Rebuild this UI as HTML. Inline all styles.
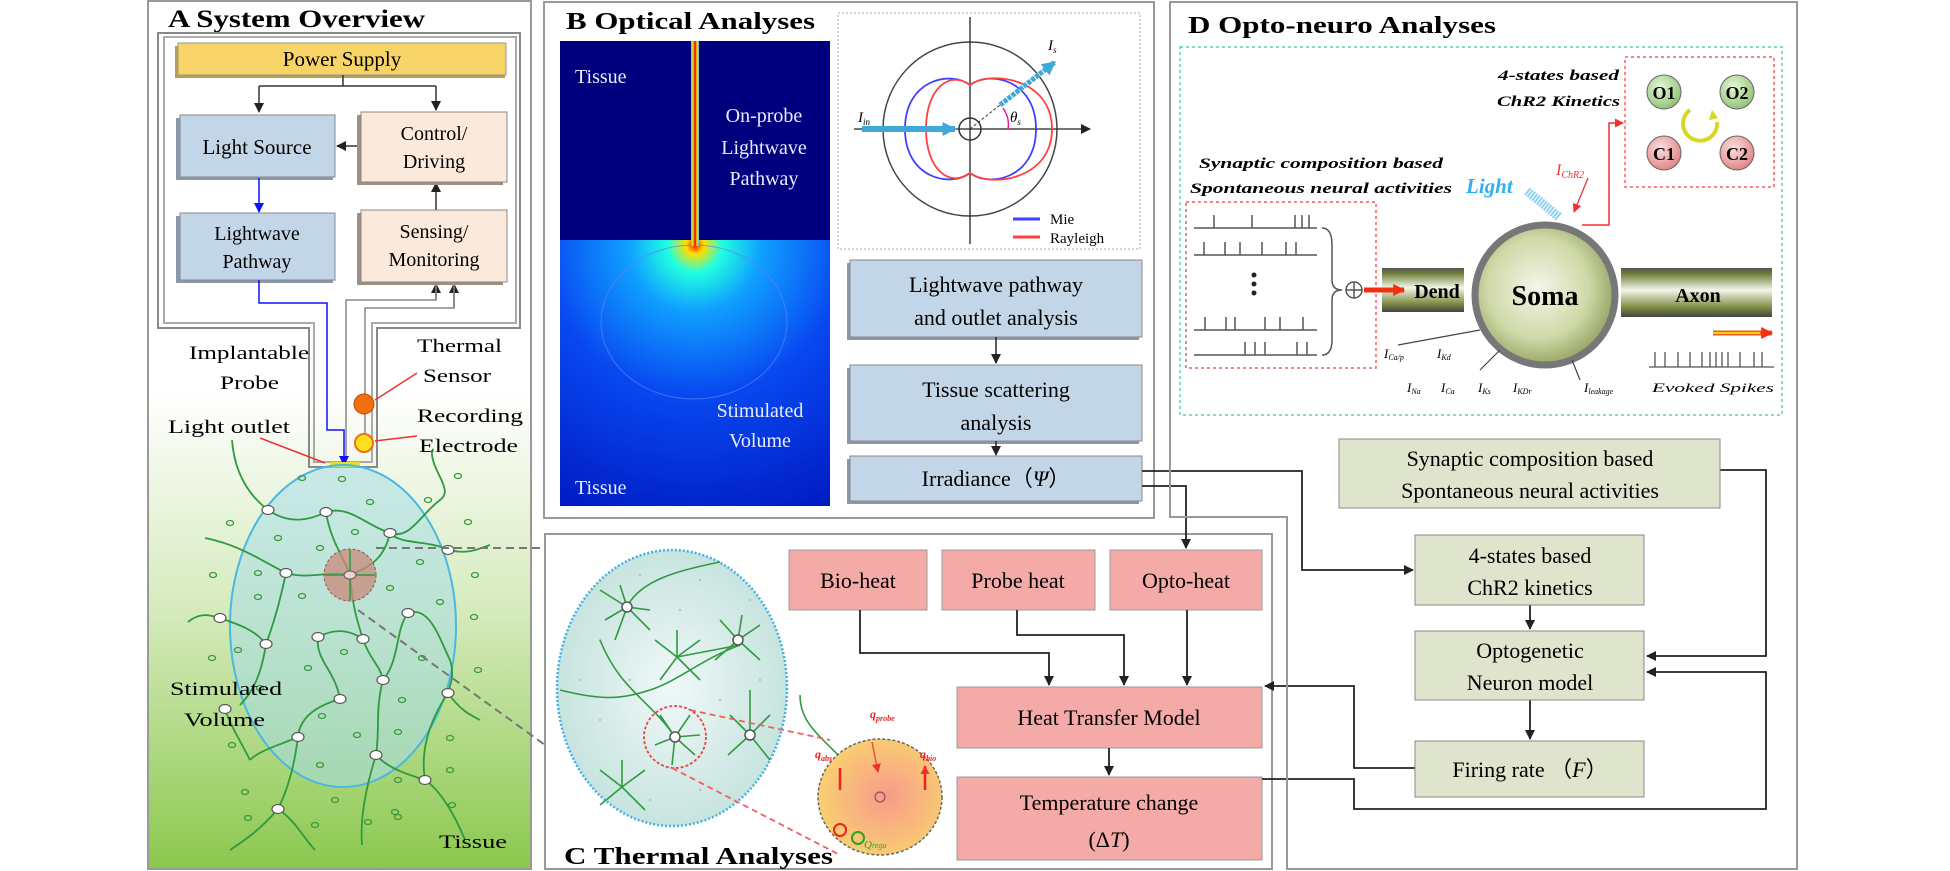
<!DOCTYPE html>
<html><head><meta charset="utf-8"><style>html,body{margin:0;padding:0;background:#fff}svg{display:block}</style></head><body>
<svg xmlns="http://www.w3.org/2000/svg" width="1950" height="871" viewBox="0 0 1950 871" font-family="'Liberation Serif', serif">
<defs>
<linearGradient id="gA" x1="0" y1="0" x2="0" y2="1"><stop offset="0" stop-color="#fff"/><stop offset="0.45" stop-color="#fff"/><stop offset="0.7" stop-color="#d6ebbd"/><stop offset="1" stop-color="#8bc84e"/></linearGradient>
<radialGradient id="gB" cx="695" cy="245" r="300" gradientUnits="userSpaceOnUse"><stop offset="0" stop-color="#ff1a00"/><stop offset="0.03" stop-color="#ffe000"/><stop offset="0.09" stop-color="#20ffe0"/><stop offset="0.22" stop-color="#10a0ff"/><stop offset="0.5" stop-color="#0848f0"/><stop offset="1" stop-color="#0018c0"/></radialGradient>
<linearGradient id="probe" x1="0" x2="1"><stop offset="0" stop-color="#40c0ff"/><stop offset="0.25" stop-color="#ffe000"/><stop offset="0.5" stop-color="#e00000"/><stop offset="0.75" stop-color="#ffe000"/><stop offset="1" stop-color="#40c0ff"/></linearGradient>
<radialGradient id="soma" cx="0.45" cy="0.45" r="0.6"><stop offset="0" stop-color="#f4f6e8"/><stop offset="0.6" stop-color="#cfd9a8"/><stop offset="1" stop-color="#8a9a55"/></radialGradient>
<linearGradient id="cyl" x1="0" y1="0" x2="0" y2="1"><stop offset="0" stop-color="#555"/><stop offset="0.12" stop-color="#6f7f3a"/><stop offset="0.45" stop-color="#f4f6ea"/><stop offset="0.8" stop-color="#7f8f45"/><stop offset="1" stop-color="#444"/></linearGradient>
<radialGradient id="gC" cx="0.5" cy="0.5" r="0.6"><stop offset="0" stop-color="#f0f8fa"/><stop offset="1" stop-color="#bfe0d8"/></radialGradient>
<radialGradient id="gO" cx="0.55" cy="0.5" r="0.55"><stop offset="0" stop-color="#f89a8a"/><stop offset="1" stop-color="#f8d070"/></radialGradient>
<radialGradient id="gG" cx="0.4" cy="0.35" r="0.7"><stop offset="0" stop-color="#e8f8d8"/><stop offset="1" stop-color="#8cc070"/></radialGradient>
<radialGradient id="gR" cx="0.4" cy="0.35" r="0.7"><stop offset="0" stop-color="#fbe0e0"/><stop offset="1" stop-color="#e08080"/></radialGradient>
<marker id="ar" viewBox="0 0 10 10" refX="9" refY="5" markerUnits="userSpaceOnUse" markerWidth="10" markerHeight="10" orient="auto"><path d="M0,0L10,5L0,10z" fill="#222"/></marker>
<marker id="arb" viewBox="0 0 10 10" refX="9" refY="5" markerUnits="userSpaceOnUse" markerWidth="10" markerHeight="10" orient="auto"><path d="M0,0L10,5L0,10z" fill="#1010ff"/></marker>
<marker id="arr" viewBox="0 0 10 10" refX="9" refY="5" markerUnits="userSpaceOnUse" markerWidth="9" markerHeight="9" orient="auto"><path d="M0,0L10,5L0,10z" fill="#f03030"/></marker>
<marker id="arc" viewBox="0 0 10 10" refX="9" refY="5" markerUnits="userSpaceOnUse" markerWidth="14" markerHeight="14" orient="auto"><path d="M0,0L10,5L0,10z" fill="#40a8d8"/></marker>
<marker id="arR" viewBox="0 0 10 10" refX="9" refY="5" markerUnits="userSpaceOnUse" markerWidth="12" markerHeight="12" orient="auto"><path d="M0,0L10,5L0,10z" fill="#f03010"/></marker>
</defs>

<!-- PANEL A -->
<rect x="148" y="1" width="383" height="868" fill="url(#gA)" stroke="#999" stroke-width="2"/>
<text x="168" y="27" font-size="25" font-weight="bold" textLength="257" lengthAdjust="spacingAndGlyphs">A  System Overview</text>
<path d="M158,33 H520 V328 H377 V467 H309 V328 H158 Z" fill="none" stroke="#888" stroke-width="2"/>
<path d="M164,37 H516 V323 H372 V462 H314 V323 H164 Z" fill="none" stroke="#aaa" stroke-width="2"/>
<rect x="175" y="46" width="330" height="32" fill="#b8a050"/>
<rect x="178" y="43" width="328" height="32" fill="#f8d468" stroke="#999"/>
<text x="342" y="66" font-size="21" text-anchor="middle">Power Supply</text>
<g stroke="#333" stroke-width="1.5" fill="none">
<path d="M343,75 V86 M259,86 H436 M259,86 V112" marker-end="url(#ar)"/>
<path d="M436,86 V110" marker-end="url(#ar)"/>
<path d="M361,146 H337" marker-end="url(#ar)"/>
<path d="M436,210 V183" marker-end="url(#ar)"/>
<path d="M436,300 V284" marker-end="url(#ar)"/>
<path d="M454,308 V284" marker-end="url(#ar)"/>
</g>
<path d="M436,283 V300 H346 V467 M454,283 V308 H365 V440" fill="none" stroke="#888" stroke-width="1.5"/>
<rect x="176" y="118" width="157" height="62" fill="#8a9aaa"/><rect x="180" y="115" width="155" height="62" fill="#c3d6e8" stroke="#888"/>
<text x="257" y="154" font-size="21" text-anchor="middle">Light Source</text>
<rect x="357" y="115" width="146" height="70" fill="#a09080"/><rect x="361" y="112" width="146" height="70" fill="#fbe9dc" stroke="#888"/>
<text x="434" y="140" font-size="20" text-anchor="middle">Control/</text><text x="434" y="168" font-size="20" text-anchor="middle">Driving</text>
<rect x="176" y="216" width="157" height="67" fill="#8a9aaa"/><rect x="180" y="213" width="155" height="67" fill="#c3d6e8" stroke="#888"/>
<text x="257" y="240" font-size="20" text-anchor="middle">Lightwave</text><text x="257" y="268" font-size="20" text-anchor="middle">Pathway</text>
<rect x="357" y="213" width="146" height="72" fill="#a09080"/><rect x="361" y="210" width="146" height="72" fill="#fbe9dc" stroke="#888"/>
<text x="434" y="238" font-size="20" text-anchor="middle">Sensing/</text><text x="434" y="266" font-size="20" text-anchor="middle">Monitoring</text>
<path d="M259,178 V212" stroke="#1010ff" stroke-width="1.5" marker-end="url(#arb)"/>
<path d="M259,280 V303 H327 V430 H344 V465" fill="none" stroke="#1010ff" stroke-width="1.5" marker-end="url(#arb)"/>
<rect x="330" y="462" width="30" height="5" fill="#e8e020"/>
<path d="M375,400 L417,373 M375,441 L417,436 M260,438 L325,463" stroke="#f03030" stroke-width="1.5"/>
<circle cx="364" cy="404" r="10" fill="#f07010" stroke="#d04000"/>
<circle cx="364" cy="443" r="9" fill="#ffe020" stroke="#f07010" stroke-width="2"/>
<g font-size="19">
<text x="417" y="352" textLength="85" lengthAdjust="spacingAndGlyphs">Thermal</text>
<text x="423" y="382" textLength="68" lengthAdjust="spacingAndGlyphs">Sensor</text>
<text x="417" y="422" textLength="106" lengthAdjust="spacingAndGlyphs">Recording</text>
<text x="419" y="452" textLength="99" lengthAdjust="spacingAndGlyphs">Electrode</text>
<text x="189" y="359" textLength="120" lengthAdjust="spacingAndGlyphs">Implantable</text>
<text x="220" y="389" textLength="59" lengthAdjust="spacingAndGlyphs">Probe</text>
<text x="168" y="433" textLength="122" lengthAdjust="spacingAndGlyphs">Light outlet</text>
</g>
<ellipse cx="343" cy="626" rx="113" ry="161" fill="#a8dde8" fill-opacity="0.55" stroke="#4ab8e0" stroke-width="2"/>
<g fill="none" stroke="#2f9a3f" stroke-width="1.8">
<path d="M232,440 C235,480 255,500 268,510 C290,525 310,520 326,512"/>
<path d="M326,512 C350,505 365,525 390,533 C410,540 420,515 440,500 C455,490 430,470 432,450"/>
<path d="M390,533 C400,545 430,540 448,550 C470,555 480,548 490,545"/>
<path d="M205,538 C240,545 260,560 286,573 C310,580 330,570 350,575"/>
<path d="M326,512 C330,540 345,560 350,575 C352,600 355,615 363,639 C370,660 380,665 383,680"/>
<path d="M350,575 C375,565 385,555 390,533"/>
<path d="M188,622 C200,612 210,615 220,618 C240,625 255,630 266,644"/>
<path d="M286,573 C280,600 275,620 266,644 C262,670 255,690 240,705"/>
<path d="M318,637 C335,628 350,630 363,639"/>
<path d="M318,637 C315,660 335,670 340,699"/>
<path d="M408,613 C395,630 400,660 383,680 C375,710 380,730 376,755"/>
<path d="M408,613 C430,605 440,640 450,660 C455,675 450,685 448,693 C460,710 470,715 480,720"/>
<path d="M340,699 C320,705 300,715 298,737 C295,760 290,785 278,809 C260,830 245,840 230,850"/>
<path d="M278,809 C295,820 305,840 315,850"/>
<path d="M376,755 C390,770 410,775 425,780 C440,790 455,815 465,840"/>
<path d="M376,755 C365,790 360,820 362,845"/>
<path d="M448,693 C430,720 420,750 425,780"/>
<path d="M298,737 C280,745 260,750 250,760"/>
<path d="M225,709 C230,725 240,740 250,760"/>
</g>
<g fill="#fff" stroke="#555" stroke-width="1.2">
<ellipse cx="268" cy="510" rx="6" ry="4.5"/><ellipse cx="326" cy="512" rx="6" ry="4.5"/><ellipse cx="390" cy="533" rx="6" ry="4.5"/><ellipse cx="448" cy="550" rx="6" ry="4.5"/><ellipse cx="286" cy="573" rx="6" ry="4.5"/><ellipse cx="220" cy="618" rx="6" ry="4.5"/><ellipse cx="266" cy="644" rx="6" ry="4.5"/><ellipse cx="318" cy="637" rx="6" ry="4.5"/><ellipse cx="363" cy="639" rx="6" ry="4.5"/><ellipse cx="408" cy="613" rx="6" ry="4.5"/><ellipse cx="383" cy="680" rx="6" ry="4.5"/><ellipse cx="340" cy="699" rx="6" ry="4.5"/><ellipse cx="448" cy="693" rx="6" ry="4.5"/><ellipse cx="225" cy="709" rx="6" ry="4.5"/><ellipse cx="298" cy="737" rx="6" ry="4.5"/><ellipse cx="376" cy="755" rx="6" ry="4.5"/><ellipse cx="425" cy="780" rx="6" ry="4.5"/><ellipse cx="278" cy="809" rx="6" ry="4.5"/>
</g>
<g fill="none" stroke="#3a9a3a" stroke-width="1.3">
<ellipse cx="302" cy="478" rx="3.5" ry="2.5"/><ellipse cx="342" cy="479" rx="3.5" ry="2.5"/><ellipse cx="370" cy="502" rx="3.5" ry="2.5"/><ellipse cx="458" cy="476" rx="3.5" ry="2.5"/><ellipse cx="428" cy="500" rx="3.5" ry="2.5"/><ellipse cx="230" cy="523" rx="3.5" ry="2.5"/><ellipse cx="278" cy="538" rx="3.5" ry="2.5"/><ellipse cx="355" cy="532" rx="3.5" ry="2.5"/><ellipse cx="320" cy="548" rx="3.5" ry="2.5"/><ellipse cx="468" cy="522" rx="3.5" ry="2.5"/><ellipse cx="420" cy="562" rx="3.5" ry="2.5"/><ellipse cx="213" cy="575" rx="3.5" ry="2.5"/><ellipse cx="258" cy="573" rx="3.5" ry="2.5"/><ellipse cx="390" cy="588" rx="3.5" ry="2.5"/><ellipse cx="475" cy="575" rx="3.5" ry="2.5"/><ellipse cx="258" cy="597" rx="3.5" ry="2.5"/><ellipse cx="302" cy="596" rx="3.5" ry="2.5"/><ellipse cx="440" cy="602" rx="3.5" ry="2.5"/><ellipse cx="474" cy="617" rx="3.5" ry="2.5"/><ellipse cx="238" cy="650" rx="3.5" ry="2.5"/><ellipse cx="344" cy="652" rx="3.5" ry="2.5"/><ellipse cx="422" cy="658" rx="3.5" ry="2.5"/><ellipse cx="212" cy="658" rx="3.5" ry="2.5"/><ellipse cx="478" cy="670" rx="3.5" ry="2.5"/><ellipse cx="308" cy="668" rx="3.5" ry="2.5"/><ellipse cx="402" cy="700" rx="3.5" ry="2.5"/><ellipse cx="260" cy="688" rx="3.5" ry="2.5"/><ellipse cx="322" cy="716" rx="3.5" ry="2.5"/><ellipse cx="357" cy="735" rx="3.5" ry="2.5"/><ellipse cx="398" cy="732" rx="3.5" ry="2.5"/><ellipse cx="450" cy="738" rx="3.5" ry="2.5"/><ellipse cx="232" cy="745" rx="3.5" ry="2.5"/><ellipse cx="320" cy="765" rx="3.5" ry="2.5"/><ellipse cx="398" cy="780" rx="3.5" ry="2.5"/><ellipse cx="450" cy="770" rx="3.5" ry="2.5"/><ellipse cx="245" cy="792" rx="3.5" ry="2.5"/><ellipse cx="335" cy="800" rx="3.5" ry="2.5"/><ellipse cx="395" cy="812" rx="3.5" ry="2.5"/><ellipse cx="452" cy="805" rx="3.5" ry="2.5"/><ellipse cx="248" cy="818" rx="3.5" ry="2.5"/><ellipse cx="315" cy="825" rx="3.5" ry="2.5"/><ellipse cx="368" cy="822" rx="3.5" ry="2.5"/><ellipse cx="398" cy="817" rx="3.5" ry="2.5"/>
</g>
<circle cx="350" cy="575" r="26" fill="#c88a7a" fill-opacity="0.75" stroke="#8a5a4a" stroke-dasharray="3,2"/>
<path d="M350,550 V600 M325,575 H375" stroke="#2f9a3f" stroke-width="1.5"/>
<ellipse cx="350" cy="575" rx="6" ry="4" fill="#f0d0d0" stroke="#555"/>
<path d="M376,548 H650" stroke="#777" stroke-width="2" stroke-dasharray="8,5"/>
<path d="M358,610 L545,745" stroke="#777" stroke-width="2" stroke-dasharray="8,5"/>
<text x="170" y="695" font-size="19" textLength="112" lengthAdjust="spacingAndGlyphs">Stimulated</text>
<text x="184" y="726" font-size="19" textLength="81" lengthAdjust="spacingAndGlyphs">Volume</text>
<text x="439" y="848" font-size="19" textLength="68" lengthAdjust="spacingAndGlyphs">Tissue</text>

<!-- PANEL B -->
<rect x="544" y="2" width="610" height="516" fill="#fff" stroke="#999" stroke-width="2"/>
<text x="566" y="29" font-size="24" font-weight="bold" textLength="249" lengthAdjust="spacingAndGlyphs">B  Optical Analyses</text>
<rect x="560" y="41" width="270" height="465" fill="#00007e"/>
<rect x="560" y="240" width="270" height="266" fill="url(#gB)"/>
<ellipse cx="694" cy="322" rx="93" ry="77" fill="none" stroke="#6080ff" stroke-width="1" opacity="0.7"/>
<rect x="691" y="41" width="8" height="205" fill="url(#probe)"/>
<g fill="#e8ecff" font-size="20">
<text x="575" y="83">Tissue</text>
<text x="575" y="494">Tissue</text>
<text x="764" y="122" text-anchor="middle">On-probe</text>
<text x="764" y="154" text-anchor="middle">Lightwave</text>
<text x="764" y="185" text-anchor="middle">Pathway</text>
<text x="760" y="417" text-anchor="middle">Stimulated</text>
<text x="760" y="447" text-anchor="middle">Volume</text>
</g>
<rect x="838" y="13" width="302" height="236" fill="#fff" stroke="#aaa" stroke-dasharray="2,2"/>
<circle cx="970" cy="129" r="87" fill="none" stroke="#444" stroke-width="1.5"/>
<path d="M854,129 H1090" stroke="#222" stroke-width="1.3" marker-end="url(#ar)"/>
<path d="M970,17 V244" stroke="#222" stroke-width="1.3"/>
<path d="M970,85 C950,70 905,80 905,129 C905,178 950,188 970,173 C990,188 1036,178 1036,129 C1036,80 990,70 970,85 Z" fill="none" stroke="#4040ff" stroke-width="1.8"/>
<path d="M970,85 C990,70 1052,78 1052,129 C1052,180 990,188 970,173 C950,188 926,170 926,129 C926,88 950,70 970,85Z" fill="none" stroke="#ff4040" stroke-width="1.8"/>
<circle cx="970" cy="129" r="11" fill="none" stroke="#333" stroke-width="1.5"/>
<path d="M862,129 H955" stroke="#40a8d8" stroke-width="6" marker-end="url(#arc)"/>
<path d="M1000,105 L1055,62" stroke="#40a8d8" stroke-width="5" stroke-dasharray="4,1" marker-end="url(#arc)"/>
<path d="M970,129 L1000,105" stroke="#333" stroke-dasharray="3,2"/>
<path d="M1003,108 Q1010,118 1008,129" fill="none" stroke="#e020a0" stroke-width="1.5"/>
<g font-size="15" font-style="italic"><text x="858" y="122">I<tspan font-size="9" dy="3">in</tspan></text><text x="1048" y="50">I<tspan font-size="9" dy="3">s</tspan></text><text x="1010" y="122">θ<tspan font-size="9" dy="3">s</tspan></text></g>
<path d="M1013,219 H1040" stroke="#4040ff" stroke-width="3"/><path d="M1013,237 H1040" stroke="#ff4040" stroke-width="3"/>
<text x="1050" y="224" font-size="15">Mie</text><text x="1050" y="243" font-size="15">Rayleigh</text>
<rect x="847" y="263" width="292" height="77" fill="#8a98a8"/><rect x="850" y="260" width="292" height="77" fill="#c3d6e8" stroke="#888"/>
<text x="996" y="292" font-size="22" text-anchor="middle">Lightwave pathway</text><text x="996" y="325" font-size="22" text-anchor="middle">and outlet analysis</text>
<path d="M996,337 V363" stroke="#222" stroke-width="1.5" marker-end="url(#ar)"/>
<rect x="847" y="368" width="292" height="76" fill="#8a98a8"/><rect x="850" y="365" width="292" height="76" fill="#c3d6e8" stroke="#888"/>
<text x="996" y="397" font-size="22" text-anchor="middle">Tissue scattering</text><text x="996" y="430" font-size="22" text-anchor="middle">analysis</text>
<path d="M996,441 V455" stroke="#222" stroke-width="1.5" marker-end="url(#ar)"/>
<rect x="847" y="459" width="292" height="45" fill="#8a98a8"/><rect x="850" y="456" width="292" height="45" fill="#c3d6e8" stroke="#888"/>
<text x="996" y="486" font-size="22" text-anchor="middle">Irradiance（<tspan font-style="italic">Ψ</tspan>）</text>

<!-- PANEL C -->
<rect x="545" y="534" width="727" height="335" fill="#fff" stroke="#999" stroke-width="2"/>
<ellipse cx="672" cy="688" rx="115" ry="138" fill="url(#gC)" stroke="#40b0e8" stroke-width="2.5" stroke-dasharray="2,2"/>
<g fill="#b0c8b8"><circle cx="640" cy="575" r="1.2"/><circle cx="700" cy="580" r="1.2"/><circle cx="600" cy="640" r="1.2"/><circle cx="720" cy="700" r="1.2"/><circle cx="600" cy="720" r="1.2"/><circle cx="650" cy="800" r="1.2"/><circle cx="700" cy="790" r="1.2"/><circle cx="760" cy="680" r="1.2"/><circle cx="680" cy="610" r="1.2"/><circle cx="630" cy="680" r="1.2"/><circle cx="580" cy="680" r="1.2"/><circle cx="750" cy="600" r="1.2"/></g>
<g stroke="#2f9a3f" stroke-width="1.6" fill="none">
<path d="M627,607 C640,580 680,570 720,562"/>
<path d="M627,607 L600,590 M627,607 L605,620 M627,607 L620,585 M627,607 L650,630 M627,607 L615,640 M627,607 L650,610"/>
<path d="M677,657 L655,640 M677,657 L700,640 M677,657 L660,680 M677,657 L700,680 M677,657 L677,630 M677,657 L740,645"/>
<path d="M738,640 L760,625 M738,640 L760,660 M738,640 L720,620 M738,640 L715,660 M738,640 L742,615"/>
<path d="M600,640 C620,690 650,700 675,737"/>
<path d="M560,690 C600,700 620,700 650,690 C680,680 700,660 740,645"/>
<path d="M675,737 L660,715 M675,737 L690,715 M675,737 L655,745 M675,737 L695,755 M675,737 L672,765 M675,737 L700,735"/>
<path d="M750,735 L730,715 M750,735 L770,715 M750,735 L728,755 M750,735 L770,760 M750,735 L750,690"/>
<path d="M622,787 L600,770 M622,787 L645,770 M622,787 L600,805 M622,787 L645,810 M622,787 L622,760"/>
<path d="M800,695 C800,730 830,740 870,790"/>
<path d="M880,797 L860,780 M880,797 L900,780 M880,797 L860,815 M880,797 L900,815 M880,797 L880,825"/>
</g>
<g fill="#fff" stroke="#555" stroke-width="1.5"><circle cx="627" cy="607" r="5"/><circle cx="738" cy="640" r="5"/><circle cx="675" cy="737" r="5"/><circle cx="750" cy="735" r="5"/></g>
<circle cx="675" cy="737" r="31" fill="none" stroke="#f04040" stroke-width="1.8" stroke-dasharray="3,2"/>
<ellipse cx="880" cy="797" rx="62" ry="58" fill="url(#gO)" stroke="#666" stroke-width="1.5" stroke-dasharray="3,2"/>
<path d="M690,710 L830,740 M672,768 L840,855" stroke="#f06060" stroke-width="1.8" stroke-dasharray="6,4"/>
<circle cx="880" cy="797" r="5" fill="#f4a090" stroke="#844"/>
<path d="M840,790 V768 M925,790 V766" stroke="#f02020" stroke-width="2.5" marker-end="url(#arr)"/>
<path d="M872,742 L878,772" stroke="#f04040" stroke-width="1.3" marker-end="url(#arr)"/>
<g fill="#f02020" font-size="12" font-style="italic" font-weight="bold"><text x="870" y="718">q<tspan font-size="8" dy="3">probe</tspan></text><text x="815" y="758">q<tspan font-size="8" dy="3">abs</tspan></text><text x="920" y="758">q<tspan font-size="8" dy="3">bio</tspan></text></g>
<circle cx="840" cy="830" r="6" fill="none" stroke="#f02020" stroke-width="2"/><circle cx="858" cy="838" r="6" fill="none" stroke="#30a030" stroke-width="2"/>
<text x="864" y="848" font-size="11" fill="#30a030" font-style="italic">Q<tspan font-size="8">regu</tspan></text>
<text x="564" y="864" font-size="24" font-weight="bold" textLength="269" lengthAdjust="spacingAndGlyphs">C  Thermal Analyses</text>
<g fill="#f4aaa6" stroke="#999">
<rect x="789" y="550" width="138" height="60"/><rect x="942" y="550" width="153" height="60"/><rect x="1110" y="550" width="152" height="60"/>
<rect x="957" y="687" width="305" height="61"/><rect x="957" y="777" width="305" height="83"/></g>
<g font-size="22" text-anchor="middle">
<text x="858" y="588">Bio-heat</text><text x="1018" y="588">Probe heat</text><text x="1186" y="588">Opto-heat</text>
<text x="1109" y="725">Heat Transfer Model</text>
<text x="1109" y="810">Temperature change</text><text x="1109" y="847">(Δ<tspan font-style="italic">T</tspan>)</text></g>
<g stroke="#222" stroke-width="1.8" fill="none">
<path d="M860,610 V653 H1049 V685" marker-end="url(#ar)"/>
<path d="M1017,610 V635 H1124 V685" marker-end="url(#ar)"/>
<path d="M1187,610 V685" marker-end="url(#ar)"/>
<path d="M1109,748 V775" marker-end="url(#ar)"/>
<path d="M1142,486 H1186 V548" marker-end="url(#ar)"/>
<path d="M1142,471 H1302 V570 H1413" marker-end="url(#ar)"/>
<path d="M1720,470 H1766 V656 H1647" marker-end="url(#ar)"/>
<path d="M1262,779 H1354 V809 H1766 V672 H1647" marker-end="url(#ar)"/>
<path d="M1415,768 H1354 V686 H1265" marker-end="url(#ar)"/>
<path d="M1530,605 V629" marker-end="url(#ar)"/>
<path d="M1530,700 V739" marker-end="url(#ar)"/>
</g>

<!-- PANEL D -->
<path d="M1170,2 H1797 V869 H1287 V517 H1170 Z" fill="none" stroke="#999" stroke-width="2"/>
<text x="1188" y="33" font-size="24" font-weight="bold" textLength="308" lengthAdjust="spacingAndGlyphs">D  Opto-neuro Analyses</text>
<rect x="1180" y="47" width="602" height="368" fill="none" stroke="#60d0a0" stroke-width="1.5" stroke-dasharray="3,3"/>
<rect x="1625" y="57" width="149" height="130" fill="none" stroke="#f06060" stroke-width="1.5" stroke-dasharray="3,3"/>
<g font-size="18" font-weight="bold" text-anchor="middle">
<circle cx="1664" cy="92" r="17" fill="url(#gG)" stroke="#666"/><text x="1664" y="99">O1</text>
<circle cx="1737" cy="92" r="17" fill="url(#gG)" stroke="#666"/><text x="1737" y="99">O2</text>
<circle cx="1664" cy="153" r="17" fill="url(#gR)" stroke="#666"/><text x="1664" y="160">C1</text>
<circle cx="1737" cy="153" r="17" fill="url(#gR)" stroke="#666"/><text x="1737" y="160">C2</text></g>
<path d="M1690,110 A17,17 0 1 0 1717,122" fill="none" stroke="#d8d820" stroke-width="4"/>
<path d="M1712,110 l6,8 l-9,2z" fill="#d8d820"/>
<g font-style="italic" font-weight="bold" font-size="15">
<text x="1498" y="80" textLength="121" lengthAdjust="spacingAndGlyphs">4-states based</text>
<text x="1497" y="106" textLength="123" lengthAdjust="spacingAndGlyphs">ChR2 Kinetics</text>
<text x="1199" y="168" textLength="244" lengthAdjust="spacingAndGlyphs">Synaptic composition based</text>
<text x="1190" y="193" textLength="262" lengthAdjust="spacingAndGlyphs">Spontaneous neural activities</text>
</g>
<rect x="1186" y="202" width="190" height="166" fill="none" stroke="#f06060" stroke-width="1.5" stroke-dasharray="3,3"/>
<g stroke="#555" stroke-width="1.5" fill="none">
<path d="M1194,228 H1317 M1214,228 V215 M1252,228 V215 M1295,228 V215 M1302,228 V215 M1309,228 V215"/>
<path d="M1194,255 H1317 M1204,255 V242 M1225,255 V242 M1240,255 V242 M1262,255 V242 M1286,255 V242 M1296,255 V242"/>
<path d="M1194,330 H1317 M1205,330 V317 M1226,330 V317 M1235,330 V317 M1265,330 V317 M1280,330 V317 M1303,330 V317"/>
<path d="M1194,355 H1317 M1245,355 V342 M1255,355 V342 M1265,355 V342 M1297,355 V342 M1307,355 V342"/>
<path d="M1322,228 Q1332,228 1332,245 V280 Q1332,290 1342,290 Q1332,290 1332,300 V340 Q1332,355 1322,355"/>
<circle cx="1354" cy="290" r="8"/><path d="M1346,290 H1362 M1354,282 V298"/>
</g>
<g fill="#222"><circle cx="1254" cy="275" r="2.5"/><circle cx="1254" cy="284" r="2.5"/><circle cx="1254" cy="293" r="2.5"/></g>
<rect x="1382" y="268" width="82" height="44" fill="url(#cyl)"/>
<rect x="1621" y="268" width="151" height="49" fill="url(#cyl)"/>
<circle cx="1545" cy="295" r="70" fill="url(#soma)" stroke="#777" stroke-width="7"/>
<path d="M1364,290 H1404" stroke="#f03010" stroke-width="5" marker-end="url(#arR)"/>
<text x="1437" y="298" font-size="20" font-weight="bold" text-anchor="middle">Dend</text>
<text x="1545" y="305" font-size="28" font-weight="bold" text-anchor="middle">Soma</text>
<text x="1698" y="302" font-size="20" font-weight="bold" text-anchor="middle">Axon</text>
<path d="M1527,191 L1559,217" stroke="#90d0f0" stroke-width="9" stroke-dasharray="2,1"/>
<text x="1466" y="193" font-size="21" font-weight="bold" font-style="italic" fill="#30b0f0">Light</text>
<text x="1556" y="175" font-size="16" font-style="italic" fill="#f03030">I<tspan font-size="10" dy="3">ChR2</tspan></text>
<path d="M1588,178 L1574,212" stroke="#f03030" stroke-width="1.3" marker-end="url(#arr)"/>
<path d="M1582,225 H1609 V123 H1623" fill="none" stroke="#f03030" stroke-width="1.5" marker-end="url(#arr)"/>
<g font-size="13" font-style="italic"><text x="1384" y="358">I<tspan font-size="8" dy="2">Ca/p</tspan></text><text x="1437" y="358">I<tspan font-size="8" dy="2">Kd</tspan></text>
<text x="1407" y="392">I<tspan font-size="8" dy="2">Na</tspan></text><text x="1441" y="392">I<tspan font-size="8" dy="2">Ca</tspan></text><text x="1478" y="392">I<tspan font-size="8" dy="2">Ks</tspan></text><text x="1513" y="392">I<tspan font-size="8" dy="2">KDr</tspan></text><text x="1584" y="392">I<tspan font-size="8" dy="2">leakage</tspan></text>
<text x="1652" y="392" textLength="122" lengthAdjust="spacingAndGlyphs">Evoked Spikes</text></g>
<g stroke="#444" stroke-width="1.2"><path d="M1398,345 L1480,330 M1480,370 L1500,350 M1580,380 L1572,360"/></g>
<path d="M1713,333 H1772" stroke="#f06010" stroke-width="5" marker-end="url(#arR)"/>
<path d="M1713,333 H1760" stroke="#f8d020" stroke-width="2"/>
<g stroke="#555" stroke-width="1.3"><path d="M1649,367 H1774 M1655,367 V352 M1665,367 V352 M1678,367 V352 M1690,367 V352 M1702,367 V352 M1710,367 V352 M1716,367 V352 M1722,367 V352 M1728,367 V352 M1740,367 V352 M1754,367 V352 M1762,367 V352"/></g>
<g fill="#dfe4cc" stroke="#888">
<rect x="1339" y="439" width="381" height="69"/><rect x="1415" y="535" width="229" height="70"/><rect x="1415" y="631" width="229" height="69"/><rect x="1415" y="741" width="229" height="56"/></g>
<g font-size="22" text-anchor="middle">
<text x="1530" y="466">Synaptic composition based</text><text x="1530" y="498">Spontaneous neural activities</text>
<text x="1530" y="563">4-states based</text><text x="1530" y="595">ChR2 kinetics</text>
<text x="1530" y="658">Optogenetic</text><text x="1530" y="690">Neuron model</text>
<text x="1530" y="777">Firing rate （<tspan font-style="italic">F</tspan>）</text></g>
</svg>
</body></html>
